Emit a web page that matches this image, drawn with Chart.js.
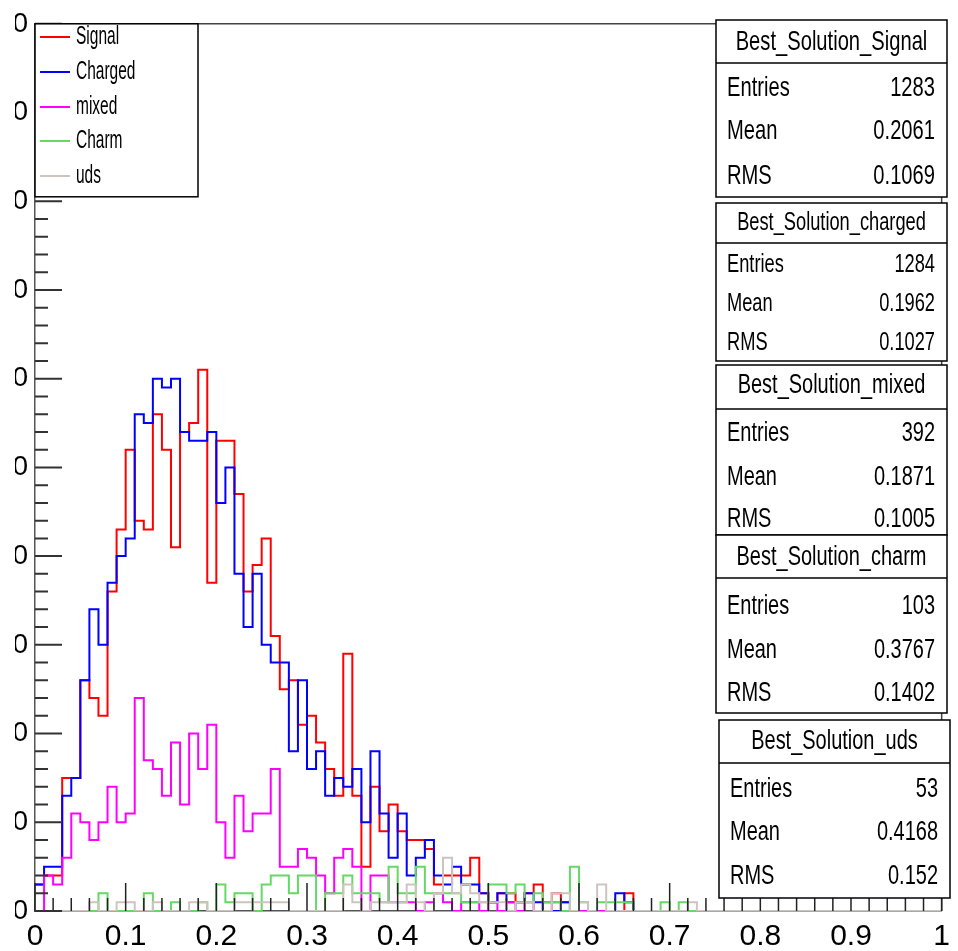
<!DOCTYPE html>
<html>
<head>
<meta charset="utf-8">
<title>Best_Solution</title>
<script src="https://cdn.jsdelivr.net/npm/chart.js@4.4.1/dist/chart.umd.min.js"></script>
<style>
    html, body { margin: 0; padding: 0; background: #fff; overflow: hidden; }
    #wrap { position: relative; width: 958px; height: 951px; }
    /* левая часть подписей оси Y обрезана, как на исходной картинке */
    #clip { position: absolute; left: 15px; top: 0; width: 943px; height: 951px; overflow: hidden; }
    #c { position: absolute; left: -47px; top: 0; }
</style>
</head>
<body>
<div id="wrap"><div id="clip"><canvas id="c" width="990" height="951"></canvas></div></div>
<script>
// Гистограммы: 100 бинов от 0 до 1
var BIN_WIDTH = 0.01;

var seriesNames = ['Signal', 'Charged', 'mixed', 'Charm', 'uds'];
var seriesColors = ['#ff0000', '#0000ff', '#ff00ff', '#66d866', '#cdc5bd'];

var signalCounts = [
    3, 4, 4, 15, 15, 26, 24, 22, 36, 43,
    52, 44, 43, 56, 52, 41, 54, 55, 61, 37,
    53, 53, 47, 36, 39, 42, 31, 25, 26, 21,
    22, 19, 16, 13, 29, 13, 5, 14, 9, 12,
    9, 8, 8, 7, 3, 4, 4, 4, 6, 2,
    1, 2, 2, 1, 2, 3, 1, 2, 1, 0,
    0, 0, 0, 0, 0, 2, 0, 0, 0, 0,
    0, 0, 0, 0, 0, 0, 0, 0, 0, 0,
    0, 0, 0, 0, 0, 0, 0, 0, 0, 0,
    0, 0, 0, 0, 0, 0, 0, 0, 0, 0
];
var chargedCounts = [
    3, 5, 5, 13, 15, 26, 34, 30, 37, 40,
    42, 56, 55, 60, 59, 60, 54, 53, 53, 54,
    46, 50, 38, 32, 38, 30, 28, 28, 18, 26,
    16, 18, 13, 15, 14, 16, 10, 18, 11, 6,
    11, 4, 6, 8, 4, 3, 5, 3, 3, 2,
    1, 2, 1, 1, 2, 1, 0, 0, 1, 0,
    0, 0, 0, 0, 2, 1, 0, 0, 0, 0,
    0, 0, 0, 0, 0, 0, 0, 0, 0, 0,
    0, 0, 0, 0, 0, 0, 0, 0, 0, 0,
    0, 0, 0, 0, 0, 0, 0, 0, 0, 0
];
var mixedCounts = [
    0, 4, 3, 6, 11, 10, 8, 10, 14, 10,
    11, 24, 17, 16, 13, 19, 12, 20, 16, 21,
    10, 6, 13, 9, 11, 11, 16, 5, 5, 7,
    6, 4, 2, 6, 7, 5, 0, 4, 4, 1,
    1, 1, 0, 1, 2, 1, 0, 1, 1, 0,
    1, 0, 1, 0, 1, 0, 0, 1, 0, 0,
    0, 0, 0, 0, 0, 0, 0, 0, 0, 0,
    0, 0, 0, 0, 0, 0, 0, 0, 0, 0,
    0, 0, 0, 0, 0, 0, 0, 0, 0, 0,
    0, 0, 0, 0, 0, 0, 0, 0, 0, 0
];
var charmCounts = [
    0, 0, 0, 0, 0, 0, 0, 2, 0, 0,
    0, 0, 2, 0, 0, 1, 0, 0, 1, 0,
    3, 1, 2, 2, 0, 3, 4, 4, 2, 4,
    4, 0, 2, 2, 4, 2, 2, 2, 1, 5,
    2, 2, 5, 2, 2, 2, 2, 1, 1, 1,
    3, 3, 2, 3, 1, 2, 1, 1, 0, 5,
    1, 0, 1, 1, 1, 1, 0, 0, 0, 1,
    0, 1, 0, 0, 0, 0, 0, 0, 0, 0,
    0, 0, 0, 0, 0, 0, 0, 0, 0, 0,
    0, 0, 0, 0, 0, 0, 0, 0, 0, 0
];
var udsCounts = [
    0, 0, 0, 0, 0, 0, 1, 0, 0, 1,
    1, 0, 0, 1, 0, 0, 0, 1, 1, 0,
    0, 0, 1, 1, 1, 1, 1, 1, 0, 0,
    0, 0, 0, 0, 3, 1, 0, 1, 1, 1,
    1, 3, 1, 0, 2, 6, 2, 3, 2, 1,
    1, 1, 0, 1, 1, 0, 0, 2, 2, 0,
    1, 0, 3, 0, 0, 0, 0, 0, 0, 0,
    0, 0, 1, 0, 0, 0, 0, 0, 0, 0,
    0, 0, 0, 0, 0, 0, 0, 0, 0, 0,
    0, 0, 0, 0, 0, 0, 0, 0, 0, 0
];

// Статистика (как в окнах ROOT)
var statNames = ['Best_Solution_Signal', 'Best_Solution_charged', 'Best_Solution_mixed', 'Best_Solution_charm', 'Best_Solution_uds'];
var statEntries = ['1283', '1284', '392', '103', '53'];
var statMeans = ['0.2061', '0.1962', '0.1871', '0.3767', '0.4168'];
var statRms = ['0.1069', '0.1027', '0.1005', '0.1402', '0.152'];

var SHIFT = 32; // canvas x = x страницы + SHIFT
var TICK_FONT = '"Liberation Sans Narrow", "Liberation Sans", sans-serif';
var TEXT_FONT = '"Liberation Sans", Arial, sans-serif';

// Точки ступенчатой линии: левый край каждого бина + правый край последнего
function toSteps(counts) {
    var pts = counts.map(function(c, i) { return { x: i * BIN_WIDTH, y: c }; });
    pts.push({ x: counts.length * BIN_WIDTH, y: counts[counts.length - 1] });
    return pts;
}

// Сжатый по горизонтали текст
function drawText(ctx, text, x, y, align, size, sx) {
    ctx.save();
    ctx.translate(x, y);
    ctx.scale(sx, 1);
    ctx.font = size + 'px ' + TEXT_FONT;
    ctx.textAlign = align;
    ctx.textBaseline = 'middle';
    ctx.fillStyle = '#000';
    ctx.fillText(text, 0, 0);
    ctx.restore();
}

// Геометрия окон статистики (в координатах страницы)
var statBoxes = [
    { x: 716, y: 20,  w: 231, h: 177, sep: 63,  title: 42,  rows: [88, 131, 176], ts: 28, rs: 28, sx: 0.72 },
    { x: 716, y: 203, w: 231, h: 158, sep: 243, title: 223, rows: [265, 304, 343], ts: 25, rs: 25, sx: 0.73 },
    { x: 716, y: 365, w: 231, h: 170, sep: 409, title: 386, rows: [434, 478, 520], ts: 27, rs: 27, sx: 0.74 },
    { x: 716, y: 535, w: 231, h: 178, sep: 578, title: 558, rows: [607, 651, 694], ts: 27, rs: 27, sx: 0.74 },
    { x: 719, y: 720, w: 231, h: 178, sep: 763, title: 742, rows: [790, 833, 877], ts: 27, rs: 27, sx: 0.74 }
];

var rootStyle = {
    id: 'rootStyle',
    afterDraw: function(chart) {
        var ctx = chart.ctx;
        var a = chart.chartArea;
        var xs = chart.scales.x;
        var ys = chart.scales.y;
        var k, p, len;
        ctx.save();

        // рамка сверху и справа
        ctx.strokeStyle = '#444';
        ctx.lineWidth = 1.5;
        ctx.beginPath();
        ctx.moveTo(a.left, a.top);
        ctx.lineTo(a.right, a.top);
        ctx.lineTo(a.right, a.bottom);
        ctx.stroke();

        // засечки внутрь, как в ROOT
        ctx.strokeStyle = '#222';
        ctx.lineWidth = 1.5;
        ctx.beginPath();
        for (k = 0; k <= 50; k++) {
            p = xs.getPixelForValue(k * 0.02);
            len = (k % 5 === 0) ? 28 : 13;
            ctx.moveTo(p, a.bottom);
            ctx.lineTo(p, a.bottom - len);
        }
        ctx.stroke();
        ctx.strokeStyle = '#333';
        ctx.lineWidth = 2;
        ctx.beginPath();
        for (k = 0; k <= 50; k++) {
            p = ys.getPixelForValue(k * 2);
            len = (k % 5 === 0) ? 27 : 13;
            ctx.moveTo(a.left, p);
            ctx.lineTo(a.left + len, p);
        }
        ctx.stroke();

        // легенда
        var lx = a.left, ly = a.top, lw = 163, lh = 173;
        ctx.fillStyle = '#fff';
        ctx.fillRect(lx, ly, lw, lh);
        ctx.strokeStyle = '#000';
        ctx.lineWidth = 1.5;
        ctx.strokeRect(lx, ly, lw, lh);
        var legendRows = [37, 72, 107, 141, 176];
        seriesNames.forEach(function(name, i) {
            ctx.strokeStyle = seriesColors[i];
            ctx.lineWidth = 2;
            ctx.beginPath();
            ctx.moveTo(SHIFT + 40, legendRows[i]);
            ctx.lineTo(SHIFT + 70, legendRows[i]);
            ctx.stroke();
            drawText(ctx, name, SHIFT + 76, legendRows[i], 'left', 25, 0.62);
        });

        // окна статистики
        statBoxes.forEach(function(b, i) {
            var bx = b.x + SHIFT;
            ctx.fillStyle = '#fff';
            ctx.fillRect(bx, b.y, b.w, b.h);
            ctx.strokeStyle = '#000';
            ctx.lineWidth = 1.5;
            ctx.strokeRect(bx, b.y, b.w, b.h);
            ctx.beginPath();
            ctx.moveTo(bx, b.sep);
            ctx.lineTo(bx + b.w, b.sep);
            ctx.stroke();
            drawText(ctx, statNames[i], bx + b.w / 2, b.title, 'center', b.ts, b.sx);
            var labels = ['Entries', 'Mean', 'RMS'];
            var values = [statEntries[i], statMeans[i], statRms[i]];
            labels.forEach(function(l, j) {
                drawText(ctx, l, bx + 11, b.rows[j], 'left', b.rs, b.sx);
                drawText(ctx, values[j], bx + b.w - 12, b.rows[j], 'right', b.rs, b.sx);
            });
        });

        ctx.restore();
    }
};

var allCounts = [signalCounts, chargedCounts, mixedCounts, charmCounts, udsCounts];

var datasets = seriesNames.map(function(name, i) {
    return {
        label: name,
        data: toSteps(allCounts[i]),
        borderColor: seriesColors[i],
        borderWidth: 2,
        stepped: true,
        pointRadius: 0,
        fill: false,
        order: 5 - i // uds рисуется поверх остальных
    };
});

var ctx = document.getElementById('c').getContext('2d');
new Chart(ctx, {
    type: 'line',
    data: { datasets: datasets },
    plugins: [rootStyle],
    options: {
        responsive: false,
        animation: false,
        events: [],
        layout: { padding: { top: 22, right: 7, left: 0, bottom: 0 } },
        plugins: {
            legend: { display: false },
            tooltip: { enabled: false }
        },
        scales: {
            x: {
                type: 'linear',
                min: 0,
                max: 1,
                grid: { display: false, drawTicks: false },
                border: { display: true, color: '#555', width: 1.5 },
                ticks: {
                    stepSize: 0.1,
                    autoSkip: false,
                    maxRotation: 0,
                    padding: 8,
                    color: '#000',
                    font: { family: TICK_FONT, size: 30 },
                    callback: function(v) { return String(Math.round(v * 10) / 10); }
                },
                afterFit: function(scale) { scale.height = 40; }
            },
            y: {
                min: 0,
                max: 100,
                grid: { display: false, drawTicks: false },
                border: { display: true, color: '#555', width: 1.5 },
                ticks: {
                    stepSize: 10,
                    padding: 7,
                    color: '#000',
                    font: { family: TICK_FONT, size: 28 }
                },
                afterFit: function(scale) { scale.width = 35 + SHIFT; }
            }
        }
    }
});
</script>
</body>
</html>
